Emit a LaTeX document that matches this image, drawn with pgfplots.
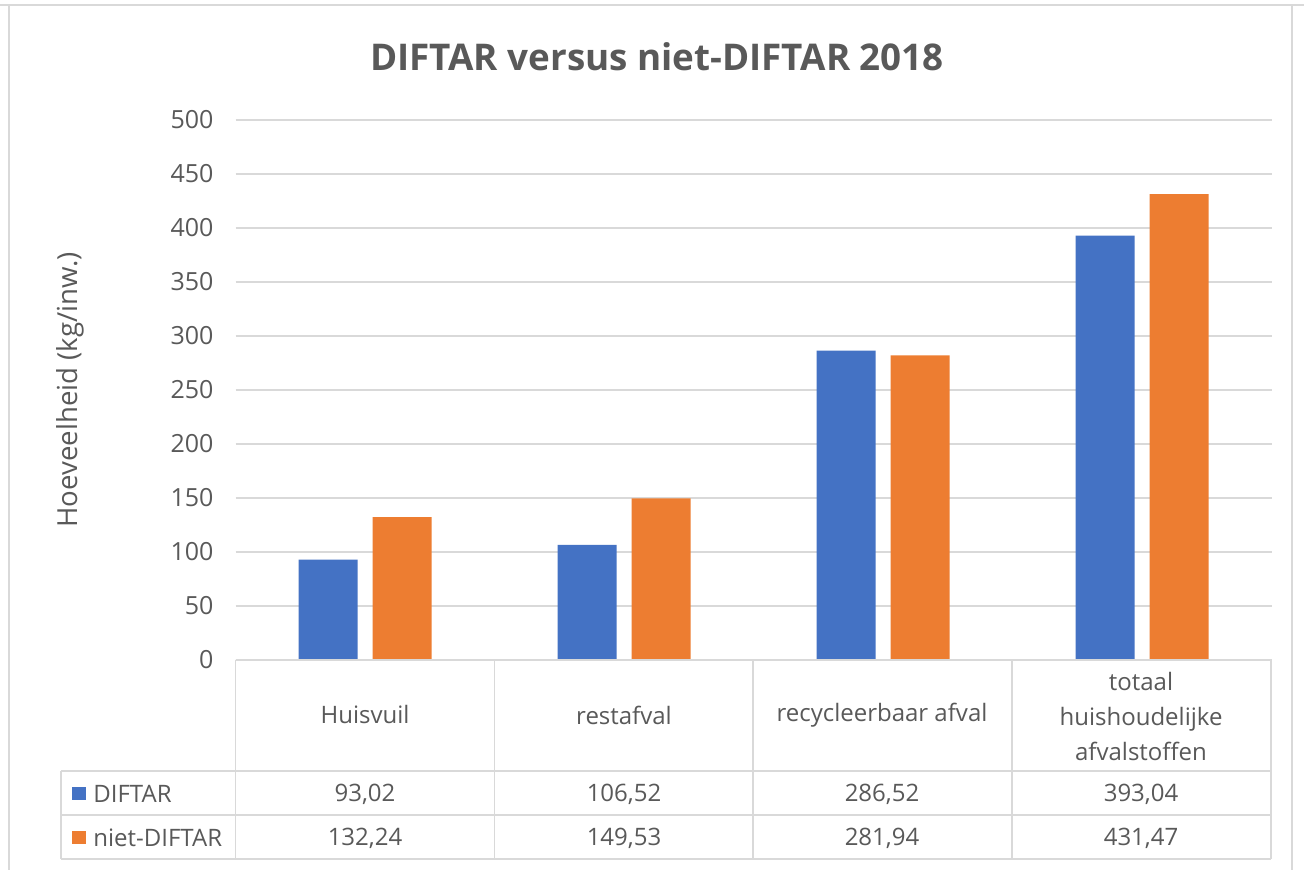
\documentclass[border=0pt]{standalone}
\usepackage{pgfplots}
\pgfplotsset{compat=1.18}
\usepackage{fontspec}
\setmainfont{Open Sans}
\definecolor{cblue}{HTML}{4472C4}
\definecolor{corange}{HTML}{ED7D31}
\definecolor{txt}{HTML}{595959}
\definecolor{grd}{HTML}{D9D9D9}
\begin{document}
\begin{tikzpicture}
\begin{scope}[x=0.5pt,y=-0.5pt,shift={(0,435pt)}]
\path[use as bounding box] (0,0) rectangle (1304,870);
\fill[white] (0,0) rectangle (1304,870);
\draw[grd, line width=1.2pt] (0,5) -- (1304,5);
\draw[grd, line width=1pt] (9,5) -- (9,870);
\draw[grd, line width=1pt] (1292,5) -- (1292,870);
\end{scope}
\begin{axis}[
  at={(117.75pt,105pt)}, anchor=south west,
  scale only axis, width=518pt, height=270pt,
  xmin=-0.5, xmax=3.5, ymin=0, ymax=500,
  axis line style={draw=none},
  major tick length=0pt,
  xtick=\empty,
  ytick={0,50,...,500},
  ymajorgrids,
  grid style={grd, line width=0.8pt},
  ybar=7.5pt, bar width=29.5pt,
  /pgf/number format/assume math mode=true,
  yticklabel style={font=\fontsize{12.5}{14}\selectfont, color=txt, xshift=-7.5pt},
  ylabel={Hoeveelheid (kg/inw.)},
  ylabel style={font=\fontsize{13.8}{15}\selectfont, color=txt, at={(axis description cs:-0.1595,0.5)}, anchor=center},
  clip=false,
]
\addplot[fill=cblue, draw=none] coordinates {(0,93.02) (1,106.52) (2,286.52) (3,393.04)};
\addplot[fill=corange, draw=none] coordinates {(0,132.24) (1,149.53) (2,281.94) (3,431.47)};
\end{axis}
\begin{scope}[x=0.5pt,y=-0.5pt,shift={(0,435pt)}]
\node[font=\bfseries\fontsize{18.4}{20}\selectfont, text=txt] at (657,57) {DIFTAR versus niet-DIFTAR 2018};
% table lines
\begin{scope}[grd, line width=0.9pt]
\draw (235.5,660) -- (1271,660);
\draw (61,771) -- (1271,771);
\draw (61,815) -- (1271,815);
\draw (61,859) -- (1271,859);
\draw (61,771) -- (61,859);
\foreach \xx in {235.5,494.5,753,1012,1271} {\draw (\xx,660) -- (\xx,859);}
\end{scope}
\begin{scope}[font=\fontsize{12}{17.5}\selectfont, text=txt]
\node at (365,715) {Huisvuil};
\node at (624,715) {restafval};
\node at (882,715) {recycleerbaar afval};
\node[align=center] at (1141,717) {totaal\\huishoudelijke\\afvalstoffen};
\fill[cblue] (72,787) rectangle (86,800);
\fill[corange] (72,831) rectangle (86,844);
\node[anchor=west, inner sep=0pt] at (93,794) {DIFTAR};
\node[anchor=west, inner sep=0pt] at (93,838) {niet-DIFTAR};
\node at (365,794) {93,02};
\node at (624,794) {106,52};
\node at (882,794) {286,52};
\node at (1141,794) {393,04};
\node at (365,838) {132,24};
\node at (624,838) {149,53};
\node at (882,838) {281,94};
\node at (1141,838) {431,47};
\end{scope}
\end{scope}
\end{tikzpicture}
\end{document}
